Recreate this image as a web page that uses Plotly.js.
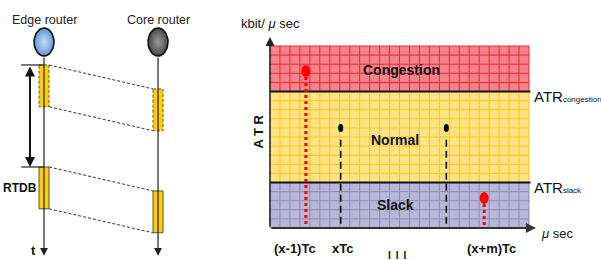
<!DOCTYPE html>
<html><head><meta charset="utf-8">
<script src="https://cdn.plot.ly/plotly-3.0.1.min.js"></script>
<style>html,body{margin:0;padding:0;background:#fff}</style>
</head><body>
<div id="chart" style="width:601px;height:260px"></div>
<script>
// ---------- Left diagram data (time in RTDB units) ----------
const nodeNames = ['Edge router', 'Core router'];
const nodeX = [0, 1];
const packetStart = [0, 1.0];
const packetLen = 0.41;
const linkDelay = 0.235;
const packetBorder = ['dash', 'solid'];
const timeEnd = 1.87;

// ---------- Right chart data ----------
const zoneNames = ['Slack', 'Normal', 'Congestion'];
const zoneLow = [0, 5, 15];
const zoneHigh = [5, 15, 20];
const timeCells = 26;
const sampleT = [3.6, 7.1, 17.7, 21.5];
const sampleATR = [17.25, 11, 11, 3.3];
const sampleKind = ['red', 'black', 'black', 'red'];
const tickLabels = ['(x-1)Tc', 'xTc', '(x+m)Tc'];
const thresholdLabels = ['ATR<span style="font-size:8px">slack</span>', 'ATR<span style="font-size:8px">congestion</span>'];

// ---------- styles ----------
const zoneFill = ['#B7B7D8', '#FFE385', '#F7838A'];
const zoneGrid = ['#8A8AB8', '#F8C614', '#EC2632'];
const nodeGrad = [[[0, '#C4E0FA'], [1, '#5F95D3']], [[0, '#9C9C9C'], [1, '#474747']]];
const FONT = 'Liberation Sans, Arial, sans-serif';
const NARROW = 'Liberation Sans Narrow, Arial Narrow, Liberation Sans, sans-serif';

const traces = [];
const shapes = [];
const ann = [];

// ===== Right chart =====
zoneNames.forEach((z, i) => {
  const lo = zoneLow[i], hi = zoneHigh[i];
  traces.push({x: [0, timeCells, timeCells, 0, 0], y: [lo, lo, hi, hi, lo], xaxis: 'x', yaxis: 'y',
    mode: 'lines', fill: 'toself', fillcolor: zoneFill[i], line: {width: 0}, hoverinfo: 'skip'});
  const gx = [], gy = [];
  for (let k = 0; k <= timeCells; k++) { gx.push(k, k, null); gy.push(lo, hi, null); }
  for (let k = lo; k <= hi; k++) { gx.push(0, timeCells, null); gy.push(k, k, null); }
  traces.push({x: gx, y: gy, xaxis: 'x', yaxis: 'y', mode: 'lines',
    line: {color: zoneGrid[i], width: 1}, hoverinfo: 'skip'});
});
// thresholds
[zoneLow[1], zoneLow[2]].forEach((v, i) => {
  traces.push({x: [0, timeCells + 0.15], y: [v, v], xaxis: 'x', yaxis: 'y', mode: 'lines',
    line: {color: '#111', width: 2}, hoverinfo: 'skip'});
  ann.push({xref: 'x', yref: 'y', x: timeCells + 0.35, y: v - 0.6, xanchor: 'left', yanchor: 'middle',
    text: thresholdLabels[i], showarrow: false, font: {family: NARROW, size: 15, color: '#111'}});
});
// samples
sampleT.forEach((t, i) => {
  const red = sampleKind[i] === 'red';
  traces.push({x: [t, t], y: red ? [sampleATR[i], 0] : [sampleATR[i] - 1.3, 0.3], xaxis: 'x', yaxis: 'y', mode: 'lines',
    line: red ? {color: '#FF0000', width: 3, dash: '3px,3px'} : {color: '#111', width: 1.6, dash: '7px,4px'},
    hoverinfo: 'skip'});
  shapes.push({type: 'circle', xref: 'x', yref: 'y', xsizemode: 'pixel', ysizemode: 'pixel',
    xanchor: t, yanchor: sampleATR[i],
    x0: red ? -4.5 : -2.5, x1: red ? 4.5 : 2.5, y0: red ? -6 : -4, y1: red ? 6 : 4,
    fillcolor: red ? '#FF0000' : '#000', line: {width: 0}});
});
// axes arrows
ann.push({xref: 'x', yref: 'y', axref: 'x', ayref: 'y', x: 26.7, y: 0, ax: 0, ay: 0, text: '',
  showarrow: true, arrowhead: 2, arrowsize: 1, arrowwidth: 2, arrowcolor: '#333', standoff: 0, startstandoff: 0});
ann.push({xref: 'x', yref: 'y', axref: 'x', ayref: 'y', x: 0, y: 21, ax: 0, ay: 0, text: '',
  showarrow: true, arrowhead: 2, arrowsize: 1.2, arrowwidth: 1.5, arrowcolor: '#222', standoff: 0, startstandoff: 0});
// zone labels
const zoneLabelPos = [[12.55, 2.5], [12.55, 9.7], [13.25, 17.4]];
zoneNames.forEach((z, i) => {
  ann.push({xref: 'x', yref: 'y', x: zoneLabelPos[i][0], y: zoneLabelPos[i][1], text: '<b>' + z + '</b>',
    showarrow: false, font: {family: FONT, size: 14, color: '#111'}});
});
// tick labels
const tickPos = [2.5, 7.3, 22.2];
tickLabels.forEach((l, i) => {
  ann.push({xref: 'x', yref: 'y', x: tickPos[i], y: -2.2, text: '<b>' + l + '</b>', showarrow: false,
    font: {family: FONT, size: 13, color: '#111'}});
});
ann.push({xref: 'x', yref: 'y', x: 12.75, y: -3.05, yanchor: 'middle', text: '<b>I\u2002I\u2002I</b>', showarrow: false,
  font: {family: FONT, size: 10, color: '#111'}, borderpad: 0});
ann.push({xref: 'x', yref: 'y', x: 0, y: 22.5, text: 'kbit/ <i>μ</i> sec', showarrow: false,
  font: {family: NARROW, size: 13, color: '#111'}});
ann.push({xref: 'x', yref: 'y', x: 28.8, y: -0.6, text: '<i>μ</i> sec', showarrow: false,
  font: {family: NARROW, size: 13, color: '#111'}});
ann.push({xref: 'x', yref: 'y', x: -1.2, y: 10.6, text: '<b>A T R</b>', textangle: -90, showarrow: false,
  font: {family: FONT, size: 13, color: '#111'}});

// ===== Left diagram =====
const rx = 0.0877, ry = 0.137, nodeT = -0.2255, halfW = 0.044;
nodeNames.forEach((n, i) => {
  ann.push({xref: 'x2', yref: 'y2', axref: 'x2', ayref: 'y2', x: nodeX[i], y: timeEnd, ax: nodeX[i], ay: nodeT + ry,
    text: '', showarrow: true, arrowhead: 2, arrowsize: 1.3, arrowwidth: 1.2, arrowcolor: '#222', standoff: 0});
  const ex = [], ey = [];
  for (let k = 0; k <= 60; k++) { const a = k / 60 * 2 * Math.PI; ex.push(nodeX[i] + rx * Math.cos(a)); ey.push(nodeT + ry * Math.sin(a)); }
  traces.push({x: ex, y: ey, xaxis: 'x2', yaxis: 'y2', mode: 'lines', fill: 'toself',
    fillcolor: nodeGrad[i][1][1], fillgradient: {type: 'radial', colorscale: nodeGrad[i]},
    line: {color: '#111', width: 1.6}, hoverinfo: 'skip'});
  ann.push({xref: 'x2', yref: 'y2', x: nodeX[i], y: -0.44, text: n, showarrow: false,
    font: {family: NARROW, size: 12.5, color: '#222'}});
});
packetStart.forEach((s, i) => {
  [[nodeX[0], s], [nodeX[1], s + linkDelay]].forEach(([nx, t0]) => {
    traces.push({x: [nx - halfW, nx + halfW, nx + halfW, nx - halfW, nx - halfW],
      y: [t0, t0, t0 + packetLen, t0 + packetLen, t0], xaxis: 'x2', yaxis: 'y2', mode: 'lines',
      fill: 'toself', fillcolor: '#FFCC00', line: {color: '#555', width: 1, dash: packetBorder[i] === 'dash' ? '3px,2px' : 'solid'},
      hoverinfo: 'skip'});
  });
  [0, packetLen].forEach(off => {
    traces.push({x: [nodeX[0] + halfW, nodeX[1] - halfW], y: [s + off, s + off + linkDelay], xaxis: 'x2', yaxis: 'y2',
      mode: 'lines', line: {color: '#333', width: 1, dash: '3px,2px'}, hoverinfo: 'skip'});
  });
  traces.push({x: [-0.2, nodeX[0]], y: [s, s], xaxis: 'x2', yaxis: 'y2', mode: 'lines',
    line: {color: '#222', width: 1.2}, hoverinfo: 'skip'});
});
// RTDB double arrow
ann.push({xref: 'x2', yref: 'y2', axref: 'x2', ayref: 'y2', x: -0.123, y: packetStart[1], ax: -0.123, ay: packetStart[0],
  text: '', showarrow: true, arrowhead: 2, arrowside: 'end+start', arrowsize: 1, arrowwidth: 2, arrowcolor: '#111', standoff: 0, startstandoff: 0});
ann.push({xref: 'x2', yref: 'y2', x: -0.21, y: 1.206, text: '<b>RTDB</b>', showarrow: false,
  font: {family: NARROW, size: 12, color: '#111'}});
ann.push({xref: 'x2', yref: 'y2', x: -0.096, y: 1.82, text: '<b>t</b>', showarrow: false,
  font: {family: FONT, size: 13, color: '#111'}});

const layout = {
  width: 601, height: 260, margin: {l: 0, r: 0, t: 0, b: 0},
  paper_bgcolor: '#fff', plot_bgcolor: 'rgba(0,0,0,0)', showlegend: false,
  xaxis: {domain: [230 / 601, 1], range: [-4.016, 33.23], visible: false, fixedrange: true},
  yaxis: {domain: [0, 1], range: [-3.516, 25.055], visible: false, fixedrange: true},
  xaxis2: {domain: [0, 200 / 601], range: [-0.386, 1.368], visible: false, anchor: 'y2'},
  yaxis2: {domain: [0, 1], range: [1.912, -0.637], visible: false, anchor: 'x2'},
  shapes: shapes, annotations: ann
};
Plotly.newPlot('chart', traces, layout, {staticPlot: true, displayModeBar: false});
</script>
</body></html>
